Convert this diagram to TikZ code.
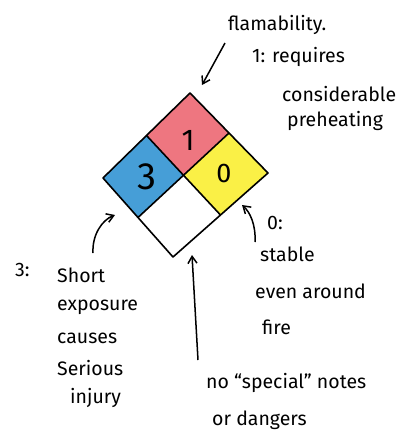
\documentclass[tikz,border=0pt]{standalone}
\usepackage{fontspec}
\setmainfont{Fira Sans}
\usetikzlibrary{arrows.meta}
\definecolor{hzred}{RGB}{238,118,128}
\definecolor{hzblue}{RGB}{70,158,215}
\definecolor{hzyellow}{RGB}{250,240,70}
\tikzset{
  edge/.style={line width=1.6pt,line join=round},
  note/.style={font=\fontsize{19.5}{19.5}\selectfont,anchor=west,inner sep=0pt},
  num/.style={font=\fontsize{30}{30}\selectfont,inner sep=0pt},
  pointer/.style={line width=1.5pt,-{Straight Barb[length=7pt,width=9pt]}}
}
\begin{document}
\begin{tikzpicture}[x=1pt,y=-1pt]
\useasboundingbox (0,0) rectangle (414,440);
% corners
\coordinate (T) at (190,93);
\coordinate (R) at (268,173);
\coordinate (B) at (173,257);
\coordinate (L) at (103,178);
\coordinate (TL) at (146.5,135.5);
\coordinate (TR) at (229,133);
\coordinate (BR) at (220.5,215);
\coordinate (BL) at (138,217.5);
\coordinate (C) at (183.5,175);
% fills
\fill[hzred] (T) -- (TR) -- (C) -- (TL) -- cycle;
\fill[hzblue] (TL) -- (C) -- (BL) -- (L) -- cycle;
\fill[hzyellow] (TR) -- (R) -- (BR) -- (C) -- cycle;
\draw[edge] (T) -- (R) -- (B) -- (L) -- cycle;
\draw[edge] (TL) -- (BR);
\draw[edge] (TR) -- (BL);
% numbers
\node[num] (n1) at (188,140) {1};
\node[num,font=\fontsize{38}{38}\selectfont] (n3) at (147,177) {3};
\node[num,font=\fontsize{27}{27}\selectfont] (n0) at (224,173) {0};
% notes
\node[note] (flam) at (228,25) {flamability.};
\node[note] (f1) at (252,57) {1: requires};
\node[note] (f2) at (282,94) {considerable};
\node[note] (f3) at (287,121) {preheating};
\node[note] (h0) at (15,270) {3:};
\node[note] (h1) at (57,275) {Short};
\node[note] (h2) at (57,307) {exposure};
\node[note] (h3) at (57,338) {causes};
\node[note] (h4) at (57,368) {Serious};
\node[note] (h5) at (70,398) {injury};
\node[note] (r0) at (267,223) {0:};
\node[note] (r1) at (260,254) {stable};
\node[note] (r2) at (255,291) {even around};
\node[note] (r3) at (262,327) {fire};
\node[note] (s1) at (206,383) {no “special” notes};
\node[note] (s2) at (212,420) {or dangers};
% arrows
\coordinate (a1s) at (225,43);
\coordinate (a1e) at (202,85);
\draw[pointer] (a1s) -- (a1e);
\coordinate (a2s) at (93,253);
\coordinate (a2e) at (115,215);
\draw[pointer] (a2s) .. controls (92,235) and (102,220) .. (a2e);
\coordinate (a3s) at (255,242);
\coordinate (a3e) at (242,205);
\draw[pointer] (a3s) .. controls (256,225) and (250,212) .. (a3e);
\coordinate (a4s) at (198,360);
\coordinate (a4e) at (192,255);
\draw[pointer] (a4s) -- (a4e);
\end{tikzpicture}
\end{document}
